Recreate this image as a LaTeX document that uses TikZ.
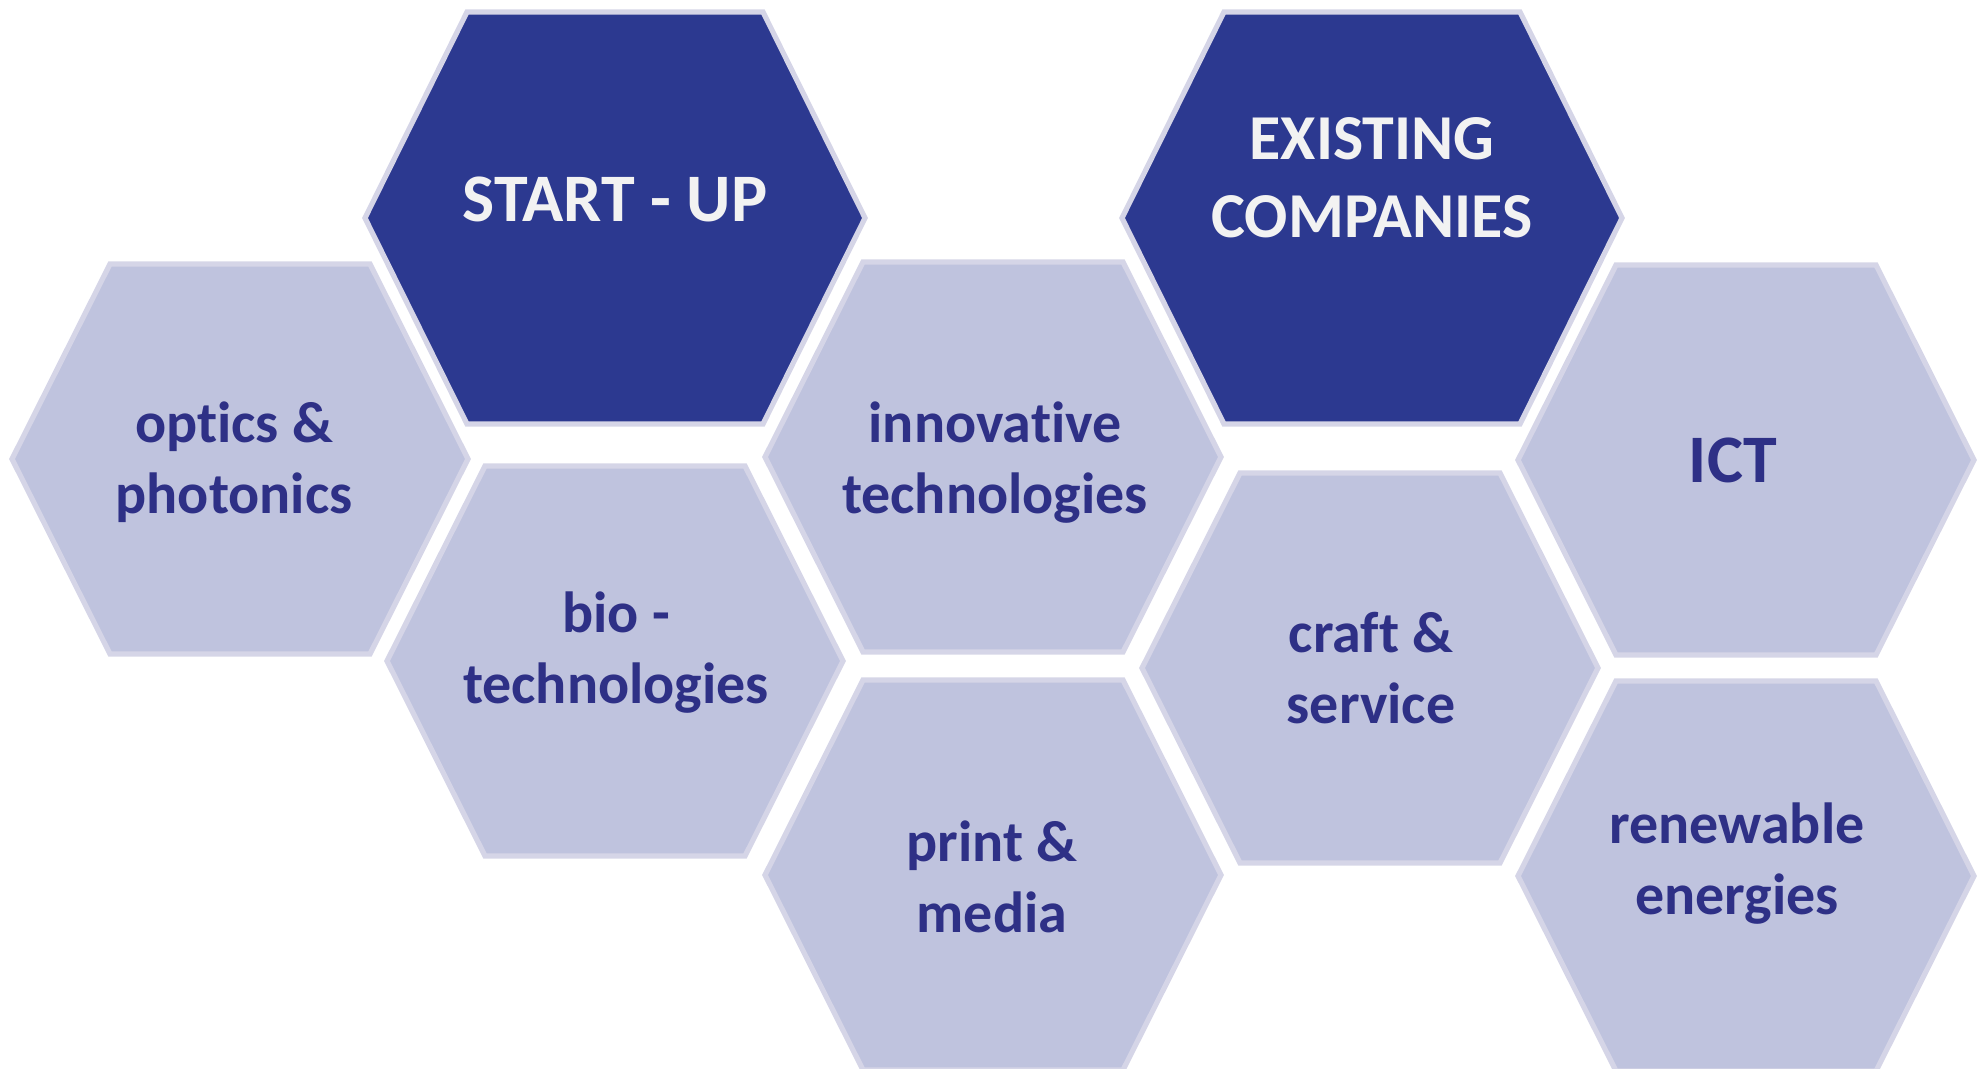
\documentclass[tikz,border=0pt]{standalone}
\usepackage{fontspec}
\setmainfont{Carlito}[RawFeature={-liga}]
\definecolor{darkfill}{HTML}{2C3990}
\definecolor{lightfill}{HTML}{BFC3DE}
\definecolor{hexline}{HTML}{D5D5E7}
\definecolor{navytext}{HTML}{2E3086}
\definecolor{paletext}{HTML}{F2F2F2}
\tikzset{
  lighthex/.style={fill=lightfill, draw=hexline, line width=2.6pt, line join=miter},
  darkhex/.style={fill=darkfill, draw=hexline, line width=2.6pt, line join=miter},
  lightlabel/.style={text=navytext, font=\bfseries\fontsize{29}{35.5}\selectfont, align=center, inner sep=0pt, anchor=base},
  darklabel/.style={text=paletext, font=\bfseries\fontsize{32}{39}\selectfont, align=center, inner sep=0pt, anchor=base}
}
\begin{document}
\begin{tikzpicture}[x=0.5pt,y=-0.5pt]
\useasboundingbox (0,0) rectangle (1981,1069);
\clip (0,0) rectangle (1981,1069);
% light hexagons: centre x, centre y
\foreach \cx/\cy in {240/459, 615/661, 993/457, 993/875, 1370/668, 1746/460, 1746/876}{
  \draw[lighthex] ({\cx-228},\cy) -- ({\cx-130},{\cy-195}) -- ({\cx+130},{\cy-195})
     -- ({\cx+228},\cy) -- ({\cx+130},{\cy+195}) -- ({\cx-130},{\cy+195}) -- cycle;
}
% dark hexagons
\foreach \cx/\cy in {615/218, 1372/218}{
  \draw[darkhex] ({\cx-250},\cy) -- ({\cx-148},{\cy-206}) -- ({\cx+148},{\cy-206})
     -- ({\cx+250},\cy) -- ({\cx+148},{\cy+206}) -- ({\cx-148},{\cy+206}) -- cycle;
}
% multi-line labels are placed by the baseline of their last line
\node[darklabel, font=\bfseries\fontsize{34}{40}\selectfont] (startup) at (615,222) {START - UP};
\node[darklabel] (existing) at (1372,238) {EXISTING\\COMPANIES};
\node[lightlabel] (optics) at (234,513) {optics \&\\photonics};
\node[lightlabel] (innov) at (995,513) {innovative\\technologies};
\node[lightlabel] (bio) at (616,703) {bio -\\technologies};
\node[lightlabel] (print) at (992,932) {print \&\\media};
\node[lightlabel] (craft) at (1371,723) {craft \&\\service};
\node[lightlabel] (renew) at (1737,914) {renewable\\energies};
\node[lightlabel, font=\bfseries\fontsize{34}{40}\selectfont] (ict) at (1733,482) {ICT};
\end{tikzpicture}
\end{document}
